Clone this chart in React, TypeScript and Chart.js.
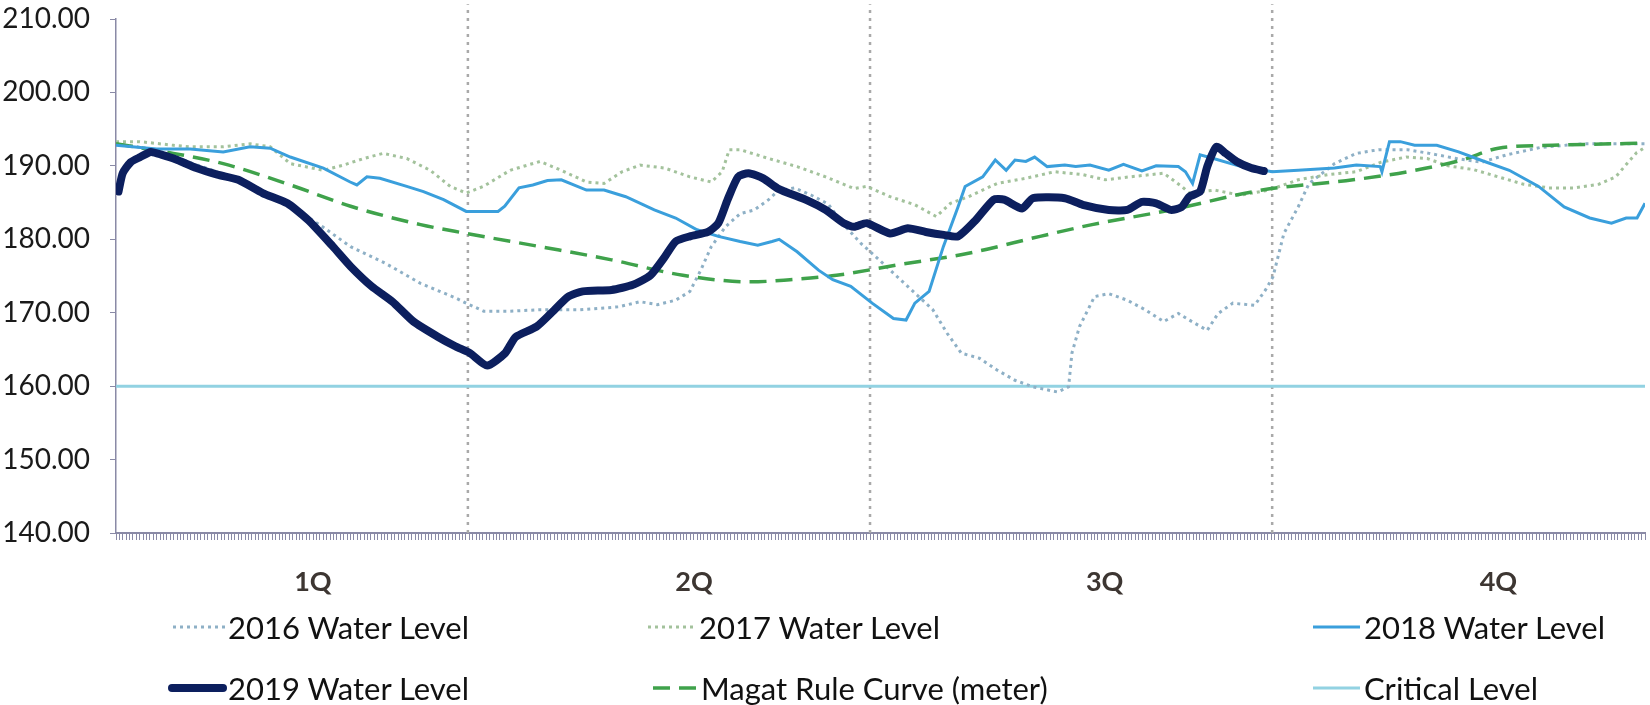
import React, { useEffect, useRef } from "react";
import { Chart, registerables } from "chart.js";

Chart.register(...registerables);

const WIDTH = 1650;
const HEIGHT = 705;

// Day-of-year horizontal axis
const yearStart = 0;
const yearEnd = 365;
const axisTickCount = 450;
const quarterBoundaryDays = [84, 180, 276];
const quarterLabels = ["1Q", "2Q", "3Q", "4Q"];
const quarterLabelDays = [47, 138, 236, 330];

// Reservoir elevation axis (meters)
const levelMin = 140;
const levelMax = 210;
const levelStep = 10;
const dividerTop = 212;
const criticalLevel = 160;

const days2016 = [0, 5, 10, 15, 20, 25, 30, 35, 40, 45, 49.3, 56, 64.4, 72.7, 81.1, 83.6, 87.8, 93.7, 101.2, 110.8, 120, 125.1, 129.3, 133.6, 137, 139.6, 142.1, 145.5, 149, 152.4, 155.8, 158, 162, 166, 170, 173.7, 177.9, 182.2, 186.5, 191.6, 195, 198.4, 201.8, 206.1, 210.3, 214.6, 218.9, 224.8, 227.4, 228.2, 230, 233.6, 237, 241.4, 245.7, 250.1, 253.6, 256.2, 260.5, 263.1, 266.6, 271.8, 274.4, 276.2, 278.8, 282.2, 284.8, 290.9, 296.1, 301.4, 308.3, 313.5, 320, 326, 332, 340, 350, 358, 365];
const levels2016 = [193, 192.6, 192, 191, 190, 189, 188.2, 186.6, 185.2, 183.3, 181.7, 179, 176.7, 174, 172, 171.3, 170.2, 170.2, 170.4, 170.4, 170.8, 171.5, 171.1, 171.7, 172.9, 175.8, 179, 181.7, 183.5, 184, 185.4, 186.6, 187, 186, 184.8, 182, 179.4, 177.2, 174.9, 172.2, 170.4, 167.2, 164.5, 163.8, 162.2, 160.8, 159.9, 159.2, 159.9, 164.5, 168.1, 172.2, 172.6, 171.7, 170.4, 168.8, 169.9, 169, 167.6, 169.9, 171.3, 171, 173.1, 174.9, 180.8, 184.4, 187.6, 190.3, 191.7, 192.2, 192.2, 191.7, 191, 190.5, 191.5, 192.5, 193, 193, 193];

const days2017 = [0, 5.7, 13.7, 17.7, 25.6, 32, 36.8, 41.6, 49.5, 54.3, 59.1, 63.8, 69.4, 75, 79.8, 83.6, 87.7, 94.1, 101.2, 106.3, 112.3, 116.5, 120.8, 125.1, 131, 137, 142.1, 144.7, 146.4, 149, 155.8, 162.6, 169.4, 176.2, 179.2, 184.8, 190.7, 195.8, 199.2, 203.5, 210.3, 217.2, 224, 230.8, 236.2, 242, 250.1, 254.4, 256.2, 262.3, 268.3, 275.3, 282.2, 289.2, 296.1, 302, 308, 313, 318, 324, 330, 336, 342, 348, 354, 358, 361, 363, 365];
const levels2017 = [193.3, 193.3, 192.8, 192.6, 192.6, 193, 192.6, 190.3, 189.4, 190.1, 191, 191.7, 191, 189.4, 187.2, 186.3, 187.2, 189.4, 190.6, 189.4, 187.8, 187.6, 189.2, 190.1, 189.7, 188.5, 187.8, 189.2, 192.2, 192.2, 191, 189.9, 188.5, 186.9, 187.2, 185.8, 184.7, 183.1, 184.9, 185.8, 187.6, 188.3, 189.2, 188.8, 188.1, 188.5, 189, 187.2, 186.3, 186.7, 186, 186.7, 188.1, 188.8, 189.2, 190.5, 191.2, 191, 190, 189.5, 188.5, 187.5, 187, 187, 187.5, 188.5, 190.5, 191.8, 192.5];

const days2018 = [0, 9.7, 17.7, 25.6, 32, 36.8, 41.6, 49.5, 55.9, 57.5, 59.9, 63, 69.4, 73.4, 78.2, 83.6, 91.2, 92.8, 96.2, 99.5, 103, 106.3, 112.3, 116.5, 121.7, 128.5, 133.6, 138.7, 143.8, 149, 153.2, 156.6, 158.3, 162.6, 167.7, 171.1, 175.4, 180.5, 185.6, 188.6, 190.7, 194.1, 197.5, 201, 202.7, 206.9, 209.9, 212.5, 214.6, 217.2, 219.3, 222.3, 226.5, 229.1, 232.5, 237, 240.5, 244.9, 248.3, 253.6, 255.3, 257, 258.8, 262, 268, 276, 282.2, 290.9, 296.1, 301.8, 302.2, 304, 306.6, 310, 315.3, 320.5, 325.7, 332.6, 339.6, 345.7, 351.8, 357, 360.5, 363.1, 365];
const levels2018 = [192.8, 192.3, 192.3, 191.9, 192.6, 192.4, 191.2, 189.7, 187.8, 187.4, 188.5, 188.3, 187.2, 186.5, 185.4, 183.8, 183.8, 184.5, 187, 187.4, 188, 188.1, 186.7, 186.7, 185.8, 184, 182.9, 181.3, 180.4, 179.7, 179.2, 179.7, 180, 178.3, 175.8, 174.5, 173.6, 171.3, 169.2, 169, 171.3, 172.9, 179, 184.4, 187.2, 188.5, 190.8, 189.4, 190.8, 190.6, 191.2, 189.9, 190.1, 189.9, 190.1, 189.4, 190.2, 189.3, 190, 189.9, 189.2, 187.6, 191.5, 191, 190, 189.2, 189.4, 189.7, 190.1, 189.9, 189.2, 193.3, 193.3, 192.8, 192.8, 191.9, 190.8, 189.4, 187.2, 184.4, 182.9, 182.2, 182.9, 182.9, 184.9];

const days2019 = [0.6, 1.6, 3.5, 5.8, 8.3, 11, 14.2, 19.2, 24.2, 29.2, 35, 40.9, 45.9, 51.8, 56, 61, 66, 71, 76.9, 81.1, 84.5, 88.6, 92.9, 95.4, 100.4, 103.8, 108, 111.4, 118.3, 123.4, 127.6, 131, 133.6, 137, 141.3, 143.8, 146, 148.5, 151, 154.5, 158, 165, 169.4, 173.7, 176.2, 179.2, 184.8, 189, 193.3, 197.6, 201, 205.2, 209.5, 212, 216.3, 218.9, 226.5, 230.8, 237, 241.4, 244.9, 248.3, 251.8, 254.4, 256.2, 258.8, 260.5, 262.7, 264.9, 267.5, 271, 274];
const levels2019 = [186.5, 189, 190.5, 191.2, 191.9, 191.5, 190.9, 189.7, 188.8, 188.1, 186.3, 184.9, 182.6, 179, 176.3, 173.6, 171.5, 168.8, 166.7, 165.4, 164.5, 162.8, 164.5, 166.7, 168.1, 169.9, 172.2, 172.9, 173.1, 173.8, 175.1, 177.6, 179.7, 180.4, 181, 182.2, 185.4, 188.5, 189, 188.3, 186.9, 185.3, 184, 182.2, 181.7, 182.2, 180.8, 181.5, 181, 180.6, 180.4, 182.6, 185.4, 185.4, 184.2, 185.6, 185.6, 184.7, 184, 184, 185.1, 184.9, 184, 184.4, 185.8, 186.5, 189.9, 192.6, 191.7, 190.6, 189.7, 189.3];

const ruleCurveDays = [0, 13.7, 25.6, 41.6, 56, 72.7, 83.6, 101.2, 118.3, 135.3, 151.5, 160.9, 172, 186.5, 203.5, 220.6, 233, 251.8, 273.6, 295.3, 308.3, 321.3, 330, 343, 365];
const ruleCurveLevels = [193, 191.7, 190.3, 187.4, 184.5, 182, 180.8, 179, 177.2, 175.1, 174.2, 174.5, 175.1, 176.5, 178.1, 180.4, 182, 184, 186.7, 188.1, 189.2, 190.8, 192.4, 192.8, 193.1];

const criticalDays = [yearStart, yearEnd];
const criticalLevels = [criticalLevel, criticalLevel];

// Line styles shared by the plot and the legend
const styles = {
  w2016: { color: "#8eb0c6", width: 3, dash: [3, 4] },
  w2017: { color: "#a3c29c", width: 3, dash: [3, 4] },
  w2018: { color: "#3a9fdc", width: 3, dash: [] as number[] },
  w2019: { color: "#0c1f5e", width: 8, dash: [] as number[] },
  rule: { color: "#3fa24b", width: 3.5, dash: [17, 9] },
  critical: { color: "#92d2e2", width: 3, dash: [] as number[] },
  divider: { color: "#a9a9a9", width: 2.5, dash: [3, 5] },
};

const FONT = "Lato, 'Open Sans', sans-serif";
const AXIS_COLOR = "#8a8aa6";

const legendRows = [627, 688];
const legendItems = [
  { key: "w2016", label: "2016 Water Level", row: 0, lineFrom: 173, lineTo: 225, textLeft: 228 },
  { key: "w2017", label: "2017 Water Level", row: 0, lineFrom: 648, lineTo: 694, textLeft: 699 },
  { key: "w2018", label: "2018 Water Level", row: 0, lineFrom: 1313, lineTo: 1360, textLeft: 1364 },
  { key: "w2019", label: "2019 Water Level", row: 1, lineFrom: 168, lineTo: 227, textLeft: 228 },
  { key: "rule", label: "Magat Rule Curve (meter)", row: 1, lineFrom: 653, lineTo: 697, textLeft: 701 },
  { key: "critical", label: "Critical Level", row: 1, lineFrom: 1313, lineTo: 1360, textLeft: 1364 },
] as const;

const toPoints = (xs: number[], ys: number[]) => xs.map((x, i) => ({ x, y: ys[i] }));

function lineDataset(label: string, key: keyof typeof styles, xs: number[], ys: number[], extra: any = {}) {
  const s = styles[key];
  return {
    label,
    data: toPoints(xs, ys),
    xAxisID: "x",
    yAxisID: "y",
    borderColor: s.color,
    borderWidth: s.width,
    borderDash: s.dash,
    pointRadius: 0,
    fill: false,
    tension: 0,
    ...extra,
  };
}

function Legend() {
  return (
    <>
      {legendItems.map((item) => {
        const s = styles[item.key];
        const cy = legendRows[item.row];
        const w = item.lineTo - item.lineFrom;
        const round = item.key === "w2019";
        return (
          <React.Fragment key={item.key}>
            <svg
              width={w}
              height={14}
              style={{ position: "absolute", left: item.lineFrom, top: cy - 7 }}
            >
              <line
                x1={round ? s.width / 2 : 0}
                x2={round ? w - s.width / 2 : w}
                y1={7}
                y2={7}
                stroke={s.color}
                strokeWidth={s.width}
                strokeDasharray={s.dash.length ? s.dash.join(" ") : undefined}
                strokeLinecap={round ? "round" : "butt"}
              />
            </svg>
            <div
              style={{
                position: "absolute",
                left: item.textLeft,
                top: cy - 19,
                height: 38,
                lineHeight: "38px",
                fontFamily: FONT,
                fontSize: 31,
                color: "#111",
                whiteSpace: "nowrap",
              }}
            >
              {item.label}
            </div>
          </React.Fragment>
        );
      })}
    </>
  );
}

export default function App() {
  const canvasRef = useRef<HTMLCanvasElement>(null);

  useEffect(() => {
    const canvas = canvasRef.current;
    if (!canvas) return;

    const axisTicks: { value: number }[] = [];
    for (let i = 0; i <= axisTickCount; i++) {
      axisTicks.push({ value: yearStart + ((yearEnd - yearStart) * i) / axisTickCount });
    }

    const dividers = quarterBoundaryDays.map((d) =>
      lineDataset("", "divider", [d, d], [levelMin, dividerTop], { clip: false })
    );

    const chart = new Chart(canvas, {
      type: "line",
      data: {
        datasets: [
          lineDataset("2019 Water Level", "w2019", days2019, levels2019, {
            borderCapStyle: "round",
            borderJoinStyle: "round",
            tension: 0.2,
          }),
          lineDataset("2018 Water Level", "w2018", days2018, levels2018),
          lineDataset("Magat Rule Curve (meter)", "rule", ruleCurveDays, ruleCurveLevels, {
            cubicInterpolationMode: "monotone",
          }),
          lineDataset("2017 Water Level", "w2017", days2017, levels2017),
          lineDataset("2016 Water Level", "w2016", days2016, levels2016),
          lineDataset("Critical Level", "critical", criticalDays, criticalLevels),
          ...dividers,
        ] as any,
      },
      options: {
        animation: false,
        responsive: false,
        maintainAspectRatio: false,
        devicePixelRatio: 1,
        layout: { padding: { top: 19, right: 5, left: 0, bottom: 0 } },
        plugins: { legend: { display: false }, tooltip: { enabled: false } },
        scales: {
          x: {
            type: "linear",
            position: "bottom",
            weight: 0,
            min: yearStart,
            max: yearEnd,
            afterBuildTicks: (scale: any) => {
              scale.ticks = axisTicks.map((t) => ({ ...t }));
            },
            afterFit: (scale: any) => {
              scale.height = 7;
            },
            ticks: { display: false },
            grid: {
              drawOnChartArea: false,
              drawTicks: true,
              tickLength: 7,
              tickColor: AXIS_COLOR,
              tickWidth: 1,
            },
            border: { display: true, color: AXIS_COLOR, width: 2 },
          },
          quarter: {
            type: "linear",
            axis: "x",
            position: "bottom",
            weight: 1,
            min: yearStart,
            max: yearEnd,
            afterBuildTicks: (scale: any) => {
              scale.ticks = quarterLabelDays.map((v) => ({ value: v }));
            },
            afterFit: (scale: any) => {
              scale.height = HEIGHT - 533 - 7;
            },
            ticks: {
              autoSkip: false,
              maxRotation: 0,
              padding: 26,
              color: "#3d3632",
              font: { family: FONT, size: 27, weight: "bold" },
              callback: (_v: any, i: number) => quarterLabels[i],
            },
            grid: { display: false, drawTicks: false },
            border: { display: false },
          },
          y: {
            type: "linear",
            min: levelMin,
            max: levelMax,
            afterFit: (scale: any) => {
              scale.width = 116;
              // the plot area keeps its own top inset; labels may overhang it
              scale.paddingTop = 0;
              scale.paddingBottom = 0;
            },
            ticks: {
              stepSize: levelStep,
              padding: 20,
              color: "#1a1a1a",
              font: { family: FONT, size: 28 },
              callback: (v: any) => Number(v).toFixed(2),
            },
            grid: {
              drawOnChartArea: false,
              drawTicks: true,
              tickLength: 6,
              tickColor: AXIS_COLOR,
            },
            border: { display: true, color: AXIS_COLOR, width: 1.5 },
          },
        } as any,
      },
    });

    return () => chart.destroy();
  }, []);

  return (
    <div
      style={{
        position: "absolute",
        left: 0,
        top: 0,
        width: WIDTH,
        height: HEIGHT,
        background: "#fff",
        overflow: "hidden",
      }}
    >
      <canvas
        ref={canvasRef}
        width={WIDTH}
        height={HEIGHT}
        style={{ position: "absolute", left: 0, top: 0, width: WIDTH, height: HEIGHT }}
      />
      <Legend />
    </div>
  );
}
